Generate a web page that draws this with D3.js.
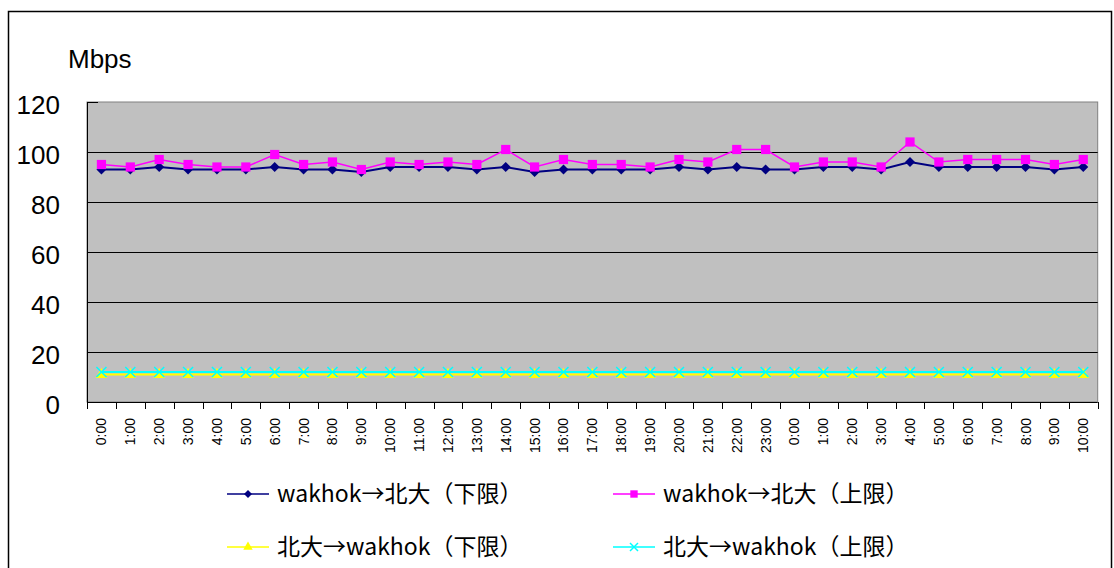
<!DOCTYPE html>
<html>
<head>
<meta charset="utf-8">
<script src="https://cdn.jsdelivr.net/npm/d3@7"></script>
<style>
  body { margin: 0; background: #fff; }
  svg text { font-family: "Liberation Sans", "Noto Sans CJK JP", sans-serif; fill: #000; }
</style>
</head>
<body>
<div id="area"></div>
<script>
// time slots along the x axis (two days, so labels repeat)
var hours = ['0:00','1:00','2:00','3:00','4:00','5:00','6:00','7:00','8:00','9:00',
  '10:00','11:00','12:00','13:00','14:00','15:00','16:00','17:00','18:00','19:00',
  '20:00','21:00','22:00','23:00','0:00','1:00','2:00','3:00','4:00','5:00',
  '6:00','7:00','8:00','9:00','10:00'];

var wakToHokLow  = [93,93,94,93,93,93,94,93,93,92,94,94,94,93,94,92,93,93,93,93,
                    94,93,94,93,93,94,94,93,96,94,94,94,94,93,94];
var wakToHokHigh = [95,94,97,95,94,94,99,95,96,93,96,95,96,95,101,94,97,95,95,94,
                    97,96,101,101,94,96,96,94,104,96,97,97,97,95,97];
var hokToWakLow  = [11,11,11,11,11,11,11,11,11,11,11,11,11,11,11,11,11,11,11,11,
                    11,11,11,11,11,11,11,11,11,11,11,11,11,11,11];
var hokToWakHigh = [12,12,12,12,12,12,12,12,12,12,12,12,12,12,12,12,12,12,12,12,
                    12,12,12,12,12,12,12,12,12,12,12,12,12,12,12];

var yTicks = [0, 20, 40, 60, 80, 100, 120];

var series = [
  {name: 'wakhok→北大（下限）', values: wakToHokLow,  color: '#000080', marker: 'diamond',  width: 2},
  {name: 'wakhok→北大（上限）', values: wakToHokHigh, color: '#FF00FF', marker: 'square',   width: 1.5},
  {name: '北大→wakhok（下限）', values: hokToWakLow,  color: '#FFFF00', marker: 'triangle', width: 2},
  {name: '北大→wakhok（上限）', values: hokToWakHigh, color: '#00FFFF', marker: 'cross',    width: 2}
];

var width = 1114, height = 568;
var plot = {left: 87, top: 102, right: 1097.7, bottom: 402};

var svg = d3.select('#area').append('svg')
  .attr('width', width).attr('height', height);

// outer frame
svg.append('rect')
  .attr('x', 8.5).attr('y', 11.5).attr('width', 1103).attr('height', 600)
  .attr('fill', 'none').attr('stroke', '#000').attr('stroke-width', 1.5);

var x = d3.scaleBand().domain(d3.range(hours.length)).range([plot.left, plot.right]);
var y = d3.scaleLinear().domain([0, 120]).range([plot.bottom, plot.top]);

// plot background
svg.append('rect')
  .attr('x', plot.left).attr('y', plot.top)
  .attr('width', plot.right - plot.left).attr('height', plot.bottom - plot.top)
  .attr('fill', '#C0C0C0').attr('stroke', '#808080').attr('stroke-width', 1);

// grid lines
svg.append('g').selectAll('line')
  .data(yTicks.filter(function(d) { return d > 0 && d < 120; }))
  .enter().append('line')
  .attr('x1', plot.left).attr('x2', plot.right)
  .attr('y1', function(d) { return Math.round(y(d)) + 0.5; })
  .attr('y2', function(d) { return Math.round(y(d)) + 0.5; })
  .attr('stroke', '#000').attr('stroke-width', 1);

// y axis
var yAxis = svg.append('g')
  .attr('transform', 'translate(' + plot.left + ',0)')
  .call(d3.axisLeft(y).tickValues(yTicks).tickSize(-11).tickPadding(27));
yAxis.select('.domain').attr('stroke', '#000');
yAxis.selectAll('.tick line').attr('stroke', '#000');
yAxis.selectAll('text')
  .attr('font-size', '26px').attr('dy', '0.45em')
  .style('font-family', '"Liberation Sans", sans-serif');

// x axis line and boundary ticks
svg.append('line')
  .attr('x1', plot.left).attr('x2', plot.right)
  .attr('y1', plot.bottom + 0.5).attr('y2', plot.bottom + 0.5)
  .attr('stroke', '#000').attr('stroke-width', 1.2);

var bounds = d3.range(hours.length + 1).map(function(i) {
  return i < hours.length ? x(i) : plot.right;
});
svg.append('g').selectAll('line')
  .data(bounds).enter().append('line')
  .attr('x1', function(d) { return Math.round(d) + 0.5; })
  .attr('x2', function(d) { return Math.round(d) + 0.5; })
  .attr('y1', plot.bottom).attr('y2', plot.bottom + 7)
  .attr('stroke', '#000').attr('stroke-width', 1);

svg.append('g').selectAll('text')
  .data(hours).enter().append('text')
  .attr('transform', function(d, i) {
    return 'translate(' + (x(i) + x.bandwidth() / 2 + 5) + ',' + 418 + ') rotate(-90)';
  })
  .attr('text-anchor', 'end')
  .attr('font-size', '14px')
  .style('font-family', '"Liberation Sans", sans-serif')
  .text(function(d) { return d; });

// unit label
svg.append('text')
  .attr('x', 68).attr('y', 68)
  .attr('font-size', '26px')
  .text('Mbps');

function drawMarker(g, type, color, size) {
  if (type === 'diamond') {
    g.append('path')
      .attr('d', d3.symbol().type(d3.symbolSquare).size(size * size * 0.5)())
      .attr('transform', 'rotate(45)')
      .attr('fill', color);
  } else if (type === 'square') {
    g.append('path')
      .attr('d', d3.symbol().type(d3.symbolSquare).size(size * size * 0.85)())
      .attr('fill', color);
  } else if (type === 'triangle') {
    g.append('path')
      .attr('d', d3.symbol().type(d3.symbolTriangle).size(size * size * 0.6)())
      .attr('fill', color);
  } else if (type === 'cross') {
    var h = size / 2;
    g.append('path')
      .attr('d', 'M' + (-h) + ',' + (-h) + 'L' + h + ',' + h + 'M' + (-h) + ',' + h + 'L' + h + ',' + (-h))
      .attr('stroke', color).attr('stroke-width', 1.5).attr('fill', 'none');
  }
}

var line = d3.line()
  .x(function(d, i) { return x(i) + x.bandwidth() / 2; })
  .y(function(d) { return y(d); });

// draw lower series first, so the upper ones sit on top
var drawOrder = [2, 3, 0, 1];
drawOrder.forEach(function(k) {
  var s = series[k];
  svg.append('path')
    .datum(s.values)
    .attr('d', line)
    .attr('fill', 'none')
    .attr('stroke', s.color)
    .attr('stroke-width', s.width);
  s.values.forEach(function(v, i) {
    var g = svg.append('g')
      .attr('transform', 'translate(' + (x(i) + x.bandwidth() / 2) + ',' + y(v) + ')');
    drawMarker(g, s.marker, s.color, 10);
  });
});

// legend
var legendPos = [[227, 494], [613, 494], [227, 547], [613, 547]];
series.forEach(function(s, k) {
  var lg = svg.append('g')
    .attr('transform', 'translate(' + legendPos[k][0] + ',' + legendPos[k][1] + ')');
  lg.append('line')
    .attr('x1', 0).attr('x2', 42).attr('y1', 0).attr('y2', 0)
    .attr('stroke', s.color).attr('stroke-width', 1.5);
  var m = lg.append('g').attr('transform', 'translate(21,0)');
  drawMarker(m, s.marker, s.color, 8);
  lg.append('text')
    .attr('x', 50).attr('y', 0).attr('dy', '0.36em')
    .attr('font-size', '23px')
    .style('font-family', '"Noto Sans CJK JP", sans-serif')
    .text(s.name);
});
</script>
</body>
</html>
